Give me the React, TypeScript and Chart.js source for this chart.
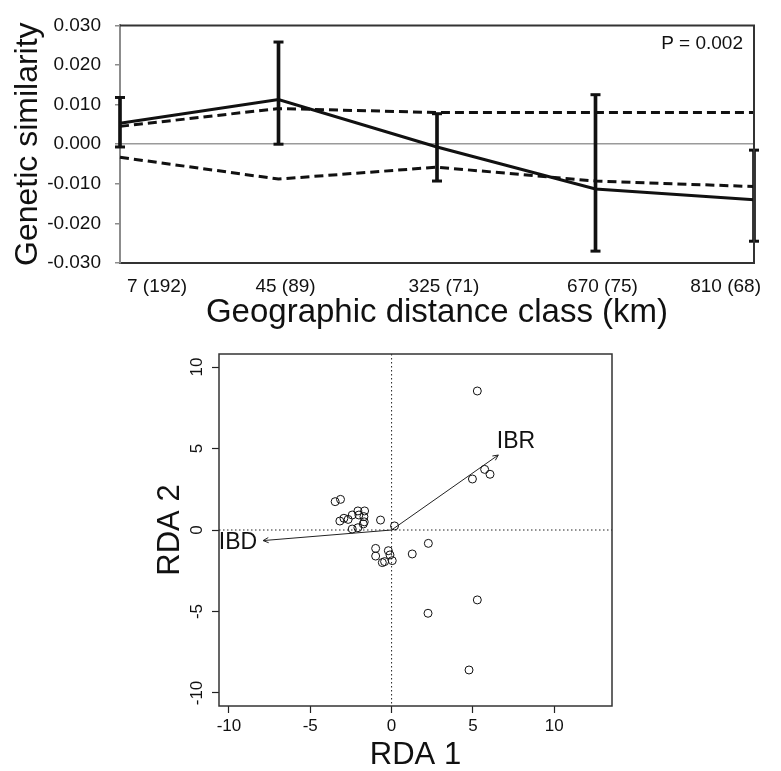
import React, { useEffect, useRef } from 'react';
import { Chart, registerables } from 'chart.js';

Chart.register(...registerables);

// ---------- Top chart data (spatial autocorrelation) ----------
const distanceClasses = ['7 (192)', '45 (89)', '325 (71)', '670 (75)', '810 (68)'];
const observedR = [0.0053, 0.0113, -0.0007, -0.0113, -0.014];
const errHigh = [0.0118, 0.0258, 0.0077, 0.0125, -0.0015];
const errLow = [-0.0007, 0.0, -0.0093, -0.027, -0.0245];
const upperCI = [0.0045, 0.009, 0.008, 0.008, 0.008];
const lowerCI = [-0.0033, -0.0088, -0.0058, -0.0093, -0.0107];
const simTicks = [-0.03, -0.02, -0.01, 0, 0.01, 0.02, 0.03];
const pValueText = 'P = 0.002';

// ---------- Bottom chart data (RDA biplot) ----------
const rda1 = [
  -3.47, -3.14, -3.18, -2.93, -2.67, -2.42, -2.07, -1.66, -2.01, -1.7, -1.74, -1.68,
  -2.42, -2.07, -0.68, 0.18, -0.98, -0.98, -0.2, -0.1, 0.04, -0.57, -0.43, 1.27,
  2.26, 5.27, 2.24, 4.76, 5.27, 4.97, 5.72, 6.05,
];
const rda2 = [
  1.74, 1.88, 0.55, 0.72, 0.65, 0.92, 1.17, 1.17, 0.92, 0.82, 0.37, 0.5,
  0.06, 0.14, 0.61, 0.25, -1.13, -1.6, -1.27, -1.53, -1.88, -2.0, -1.94, -1.47,
  -0.82, -4.29, -5.11, -8.59, 8.53, 3.13, 3.72, 3.42,
];
const arrowNames = ['IBR', 'IBD'];
const arrowX = [6.56, -7.9];
const arrowY = [4.6, -0.65];
const arrowLabelX = [7.65, -9.44];
const arrowLabelY = [5.45, -0.77];
const rdaTicks = [-10, -5, 0, 5, 10];

const FONT = "'Liberation Sans', Arial, Helvetica, sans-serif";

const topDecor = {
  id: 'topDecor',
  afterDraw(chart: any) {
    const { ctx, chartArea } = chart;
    ctx.save();
    ctx.strokeStyle = '#333';
    ctx.lineWidth = 2;
    ctx.beginPath();
    ctx.moveTo(chartArea.left, chartArea.top);
    ctx.lineTo(chartArea.right, chartArea.top);
    ctx.lineTo(chartArea.right, chartArea.bottom);
    ctx.stroke();
    ctx.fillStyle = '#111';
    ctx.font = `19px ${FONT}`;
    ctx.textAlign = 'right';
    ctx.textBaseline = 'middle';
    ctx.fillText(pValueText, chartArea.right - 11, chartArea.top + 18);
    ctx.restore();
  },
};

const rdaDecor = {
  id: 'rdaDecor',
  beforeDatasetsDraw(chart: any) {
    const { ctx, chartArea, scales } = chart;
    const x0 = scales.x.getPixelForValue(0);
    const y0 = scales.y.getPixelForValue(0);
    ctx.save();
    ctx.strokeStyle = '#222';
    ctx.lineWidth = 1;
    ctx.setLineDash([1.5, 2.5]);
    ctx.beginPath();
    ctx.moveTo(x0, chartArea.top);
    ctx.lineTo(x0, chartArea.bottom);
    ctx.moveTo(chartArea.left, y0);
    ctx.lineTo(chartArea.right, y0);
    ctx.stroke();
    ctx.restore();
  },
  afterDatasetsDraw(chart: any) {
    const { ctx, chartArea, scales } = chart;
    const x0 = scales.x.getPixelForValue(0);
    const y0 = scales.y.getPixelForValue(0);
    ctx.save();
    ctx.strokeStyle = '#222';
    ctx.lineWidth = 1;
    arrowX.forEach((ax, i) => {
      const tx = scales.x.getPixelForValue(ax);
      const ty = scales.y.getPixelForValue(arrowY[i]);
      const ang = Math.atan2(ty - y0, tx - x0);
      const len = 6;
      ctx.beginPath();
      ctx.moveTo(tx - len * Math.cos(ang - 0.45), ty - len * Math.sin(ang - 0.45));
      ctx.lineTo(tx, ty);
      ctx.lineTo(tx - len * Math.cos(ang + 0.45), ty - len * Math.sin(ang + 0.45));
      ctx.stroke();
    });
    ctx.fillStyle = '#111';
    ctx.font = `23px ${FONT}`;
    ctx.textAlign = 'center';
    ctx.textBaseline = 'middle';
    arrowNames.forEach((name, i) => {
      ctx.fillText(name, scales.x.getPixelForValue(arrowLabelX[i]), scales.y.getPixelForValue(arrowLabelY[i]));
    });
    ctx.lineWidth = 1.5;
    ctx.strokeStyle = '#333';
    ctx.strokeRect(chartArea.left, chartArea.top, chartArea.right - chartArea.left, chartArea.bottom - chartArea.top);
    ctx.restore();
  },
};

export default function App() {
  const topRef = useRef<HTMLCanvasElement>(null);
  const botRef = useRef<HTMLCanvasElement>(null);

  useEffect(() => {
    Chart.defaults.font.family = FONT;
    Chart.defaults.color = '#111';

    const black = '#111';
    const topChart = new Chart(topRef.current as HTMLCanvasElement, {
      type: 'line',
      data: {
        labels: distanceClasses,
        datasets: [
          {
            label: 'Observed',
            data: observedR,
            borderColor: black,
            borderWidth: 3,
            pointRadius: 0,
            tension: 0,
            order: 1,
          },
          {
            label: 'Upper CI',
            data: upperCI,
            borderColor: black,
            borderWidth: 3,
            borderDash: [9, 5],
            pointRadius: 0,
            order: 3,
          },
          {
            label: 'Lower CI',
            data: lowerCI,
            borderColor: black,
            borderWidth: 3,
            borderDash: [9, 5],
            pointRadius: 0,
            order: 3,
          },
          {
            type: 'bar',
            label: 'Error',
            data: errLow.map((lo, i) => [lo, errHigh[i]]),
            backgroundColor: black,
            borderWidth: 0,
            barThickness: 3,
            clip: false,
            order: 2,
          } as any,
          {
            label: 'Cap high',
            data: errHigh,
            showLine: false,
            pointStyle: 'line',
            pointRadius: 5,
            pointBorderWidth: 3,
            pointBorderColor: black,
            borderColor: black,
            clip: false,
            order: 2,
          } as any,
          {
            label: 'Cap low',
            data: errLow,
            showLine: false,
            pointStyle: 'line',
            pointRadius: 5,
            pointBorderWidth: 3,
            pointBorderColor: black,
            borderColor: black,
            clip: false,
            order: 2,
          } as any,
        ],
      },
      options: {
        responsive: false,
        animation: false,
        layout: { padding: { left: 0, right: 27, top: 14, bottom: 0 } },
        plugins: { legend: { display: false }, tooltip: { enabled: false } },
        scales: {
          x: {
            type: 'category',
            offset: false,
            grid: { display: false, offset: false },
            border: { display: true, color: '#333', width: 2 },
            ticks: {
              font: { size: 19 },
              color: black,
              padding: 4,
              align: 'inner',
              labelOffset: 7,
              maxRotation: 0,
              autoSkip: false,
            },
            title: {
              display: true,
              text: 'Geographic distance class (km)',
              font: { size: 33, lineHeight: 1 },
              color: black,
              padding: { top: 0, bottom: 16 },
            },
            afterFit: (s: any) => {
              s.height = 82;
            },
          },
          y: {
            min: -0.03,
            max: 0.03,
            afterBuildTicks: (s: any) => {
              s.ticks = simTicks.map((v) => ({ value: v }));
            },
            grid: {
              drawOnChartArea: true,
              drawTicks: true,
              tickLength: 5,
              tickColor: '#8c8c8c',
              tickWidth: 1.5,
              lineWidth: 1.5,
              color: (c: any) => (c.tick && c.tick.value === 0 ? '#9a9a9a' : 'rgba(0,0,0,0)'),
            },
            border: { display: true, color: '#8c8c8c', width: 2 },
            ticks: {
              font: { size: 19 },
              color: black,
              padding: 14,
              callback: (v: any) => (Math.abs(Number(v)) < 1e-9 ? '0.000' : Number(v).toFixed(3)),
            },
            title: {
              display: true,
              text: 'Genetic similarity',
              font: { size: 32, lineHeight: 1 },
              color: black,
              padding: { top: 12, bottom: 0 },
            },
            afterFit: (s: any) => {
              s.width = 120;
            },
          },
        },
      } as any,
      plugins: [topDecor],
    });

    const botChart = new Chart(botRef.current as HTMLCanvasElement, {
      type: 'scatter',
      data: {
        datasets: [
          {
            label: 'Samples',
            data: rda1.map((x, i) => ({ x, y: rda2[i] })),
            pointStyle: 'circle',
            pointRadius: 4,
            pointBorderWidth: 1,
            pointBackgroundColor: 'rgba(0,0,0,0)',
            pointBorderColor: '#111',
          },
          ...arrowNames.map((name, i) => ({
            label: name,
            type: 'line',
            data: [
              { x: 0, y: 0 },
              { x: arrowX[i], y: arrowY[i] },
            ],
            showLine: true,
            borderColor: '#222',
            borderWidth: 1,
            pointRadius: 0,
          })),
        ] as any,
      },
      options: {
        responsive: false,
        animation: false,
        layout: { padding: { left: 0, right: 169, top: 24, bottom: 0 } },
        plugins: { legend: { display: false }, tooltip: { enabled: false } },
        scales: {
          x: {
            type: 'linear',
            min: -10.61,
            max: 13.55,
            afterBuildTicks: (s: any) => {
              s.ticks = rdaTicks.map((v) => ({ value: v }));
            },
            grid: { drawOnChartArea: false, drawTicks: true, tickLength: 7, tickColor: '#222', tickWidth: 1.2 },
            border: { display: false },
            ticks: { font: { size: 17 }, color: black, padding: 3, maxRotation: 0, autoSkip: false },
            title: {
              display: true,
              text: 'RDA 1',
              font: { size: 31, lineHeight: 1 },
              color: black,
              padding: { top: 0, bottom: 0.5 },
            },
            afterFit: (s: any) => {
              s.height = 65;
            },
          },
          y: {
            type: 'linear',
            min: -10.8,
            max: 10.8,
            afterBuildTicks: (s: any) => {
              s.ticks = rdaTicks.map((v) => ({ value: v }));
            },
            grid: { drawOnChartArea: false, drawTicks: true, tickLength: 7, tickColor: '#222', tickWidth: 1.2 },
            border: { display: false },
            ticks: {
              font: { size: 17 },
              color: black,
              padding: 2,
              minRotation: 90,
              maxRotation: 90,
              crossAlign: 'center',
              autoSkip: false,
            },
            title: {
              display: true,
              text: 'RDA 2',
              font: { size: 31, lineHeight: 1 },
              color: black,
              padding: { top: 154.5, bottom: 0 },
            },
            afterFit: (s: any) => {
              s.width = 219;
            },
          },
        },
      } as any,
      plugins: [rdaDecor],
    });

    return () => {
      topChart.destroy();
      botChart.destroy();
    };
  }, []);

  return (
    <div style={{ position: 'absolute', left: 0, top: 0, width: 781, height: 771, background: '#fff' }}>
      <canvas ref={topRef} width={781} height={345} style={{ position: 'absolute', left: 0, top: 0 }} />
      <canvas ref={botRef} width={781} height={441} style={{ position: 'absolute', left: 0, top: 330 }} />
    </div>
  );
}
